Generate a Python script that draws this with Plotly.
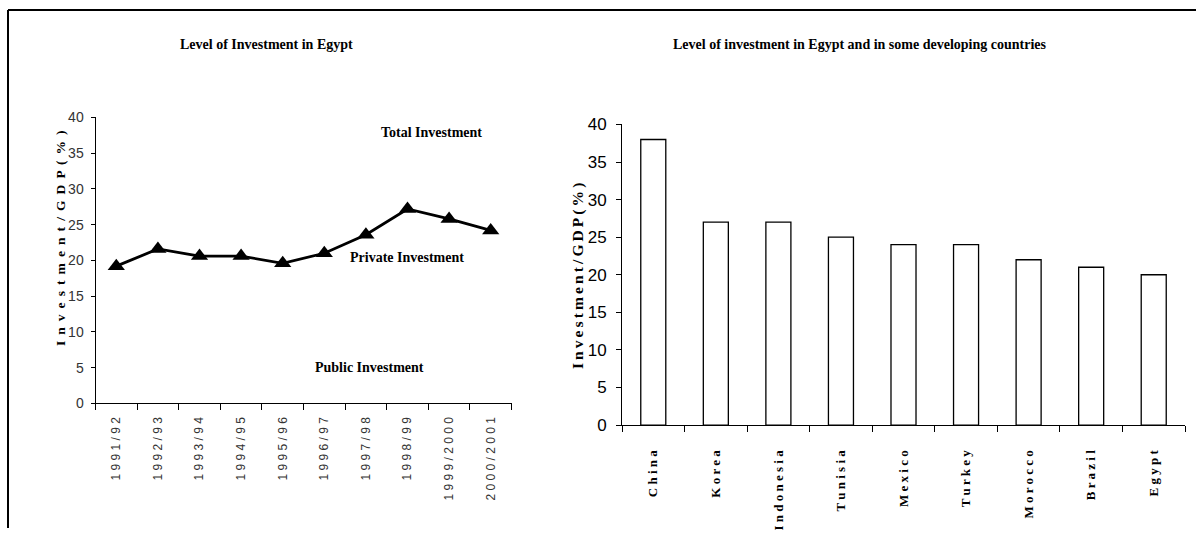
import plotly.graph_objects as go

# ---------------- data ----------------
years = ["1991/92", "1992/93", "1993/94", "1994/95", "1995/96",
         "1996/97", "1997/98", "1998/99", "1999/2000", "2000/2001"]
total_investment = [19.2, 21.6, 20.6, 20.6, 19.6, 21.0, 23.6, 27.2, 25.8, 24.2]

countries = ["China", "Korea", "Indonesia", "Tunisia", "Mexico",
             "Turkey", "Morocco", "Brazil", "Egypt"]
country_investment = [38, 27, 27, 25, 24, 24, 22, 21, 20]

y_ticks = [0, 5, 10, 15, 20, 25, 30, 35, 40]

W, H = 1196, 538
# observed vertical placement of the page inside the captured picture
V_OFF, V_SCALE = 8.8, 0.965


def spaced(s, sep=" "):
    return sep.join(list(s))


def px(x):
    return x / W


def py(y):
    yf = (y - V_OFF) / V_SCALE
    yf = min(max(yf, 0.0), H)
    return 1 - yf / H


SERIF = "Liberation Serif, Times New Roman, serif"
SANS = "Liberation Sans, Arial, sans-serif"
THIN = "\u2009"

fig = go.Figure()

fig.add_trace(go.Scatter(
    x=years, y=total_investment, mode="lines+markers",
    line=dict(color="black", width=2.8),
    marker=dict(symbol="triangle-up", size=15, color="black"),
    xaxis="x", yaxis="y", showlegend=False, hoverinfo="x+y",
))

fig.add_trace(go.Bar(
    x=countries, y=country_investment, width=0.4,
    marker=dict(color="white", line=dict(color="black", width=1.3)),
    xaxis="x2", yaxis="y2", showlegend=False,
))

fig.update_layout(
    width=W, height=H, autosize=False,
    margin=dict(l=0, r=0, t=0, b=0, pad=0),
    paper_bgcolor="white", plot_bgcolor="white",
    xaxis=dict(
        domain=[px(95.5), px(511.5)], anchor="y",
        type="category", range=[-0.5, 9.5],
        tickmode="array", tickvals=years, ticktext=[spaced(t) for t in years],
        tickson="boundaries", ticks="outside", ticklen=6, tickcolor="black",
        tickangle=-90, ticklabelstandoff=8,
        tickfont=dict(family=SANS, size=12, color="#333333"),
        showline=True, linecolor="black", linewidth=1,
        showgrid=False, zeroline=False, fixedrange=True,
    ),
    yaxis=dict(
        domain=[py(403.3), py(117.3)], anchor="x",
        range=[0, 40], tickvals=y_ticks,
        ticks="outside", ticklen=4, tickcolor="black", ticklabelstandoff=4,
        tickfont=dict(family=SANS, size=14, color="#333333"),
        showline=True, linecolor="black", linewidth=1,
        showgrid=False, zeroline=False, fixedrange=True,
    ),
    xaxis2=dict(
        domain=[px(622), px(1185)], anchor="y2",
        type="category", range=[-0.5, 8.5],
        tickmode="array", tickvals=countries, ticktext=[spaced(c) for c in countries],
        tickson="boundaries", ticks="outside", ticklen=6, tickcolor="black",
        tickangle=-90, ticklabelstandoff=19,
        tickfont=dict(family=SERIF, size=13, color="black", weight="bold"),
        showline=True, linecolor="black", linewidth=1,
        showgrid=False, zeroline=False, fixedrange=True,
    ),
    yaxis2=dict(
        domain=[py(425), py(124.3)], anchor="x2",
        range=[0, 40], tickvals=y_ticks,
        ticks="outside", ticklen=5, tickcolor="black", ticklabelstandoff=6,
        tickfont=dict(family=SANS, size=17, color="black"),
        showline=True, linecolor="black", linewidth=1,
        showgrid=False, zeroline=False, fixedrange=True,
    ),
    shapes=[
        dict(type="line", xref="paper", yref="paper",
             x0=px(8), x1=1, y0=1 - 1.0 / H, y1=1 - 1.0 / H,
             line=dict(color="black", width=2)),
        dict(type="line", xref="paper", yref="paper",
             x0=px(8), x1=px(8), y0=1 - 1.0 / H, y1=0,
             line=dict(color="black", width=2)),
    ],
)

left_ytitle = "<b>" + spaced("Investment/GDP", " \u2009") + " \u2009( \u2009% \u2009)</b>"
right_ytitle = "<b>" + spaced("Investment/GDP", THIN) + " (" + THIN + "%" + THIN + ")</b>"

ann = [
    dict(text="<b>Level of Investment in Egypt</b>", x=px(266), y=py(44),
         font=dict(family=SERIF, size=14, color="black")),
    dict(text="<b>Level of investment in Egypt and in some developing countries</b>",
         x=px(860), y=py(44), font=dict(family=SERIF, size=14, color="black")),
    dict(text="<b>Total Investment</b>", x=px(431), y=py(132),
         font=dict(family=SERIF, size=14, color="black")),
    dict(text="<b>Private Investment</b>", x=px(406.5), y=py(257),
         font=dict(family=SERIF, size=14, color="black")),
    dict(text="<b>Public Investment</b>", x=px(369), y=py(367),
         font=dict(family=SERIF, size=14, color="black")),
    dict(text=left_ytitle, x=px(60), y=py(238),
         textangle=-90, font=dict(family=SERIF, size=13.5, color="black")),
    dict(text=right_ytitle, x=px(578), y=py(276),
         textangle=-90, font=dict(family=SERIF, size=15.5, color="black")),
]
for a in ann:
    a.update(xref="paper", yref="paper", showarrow=False,
             xanchor="center", yanchor="middle")
fig.update_layout(annotations=ann)

post = (
    "document.documentElement.style.margin='0';"
    "document.documentElement.style.padding='0';"
    "document.documentElement.style.overflow='hidden';"
    "document.body.style.margin='0';"
    "document.body.style.padding='0';"
    "document.body.style.overflow='hidden';"
    "var gd=document.getElementById('{plot_id}');"
    "gd.style.position='fixed';gd.style.top='0px';gd.style.left='0px';"
)

fig.write_html("out.html", include_plotlyjs=True, full_html=True,
               config={"displayModeBar": False}, post_script=post)
